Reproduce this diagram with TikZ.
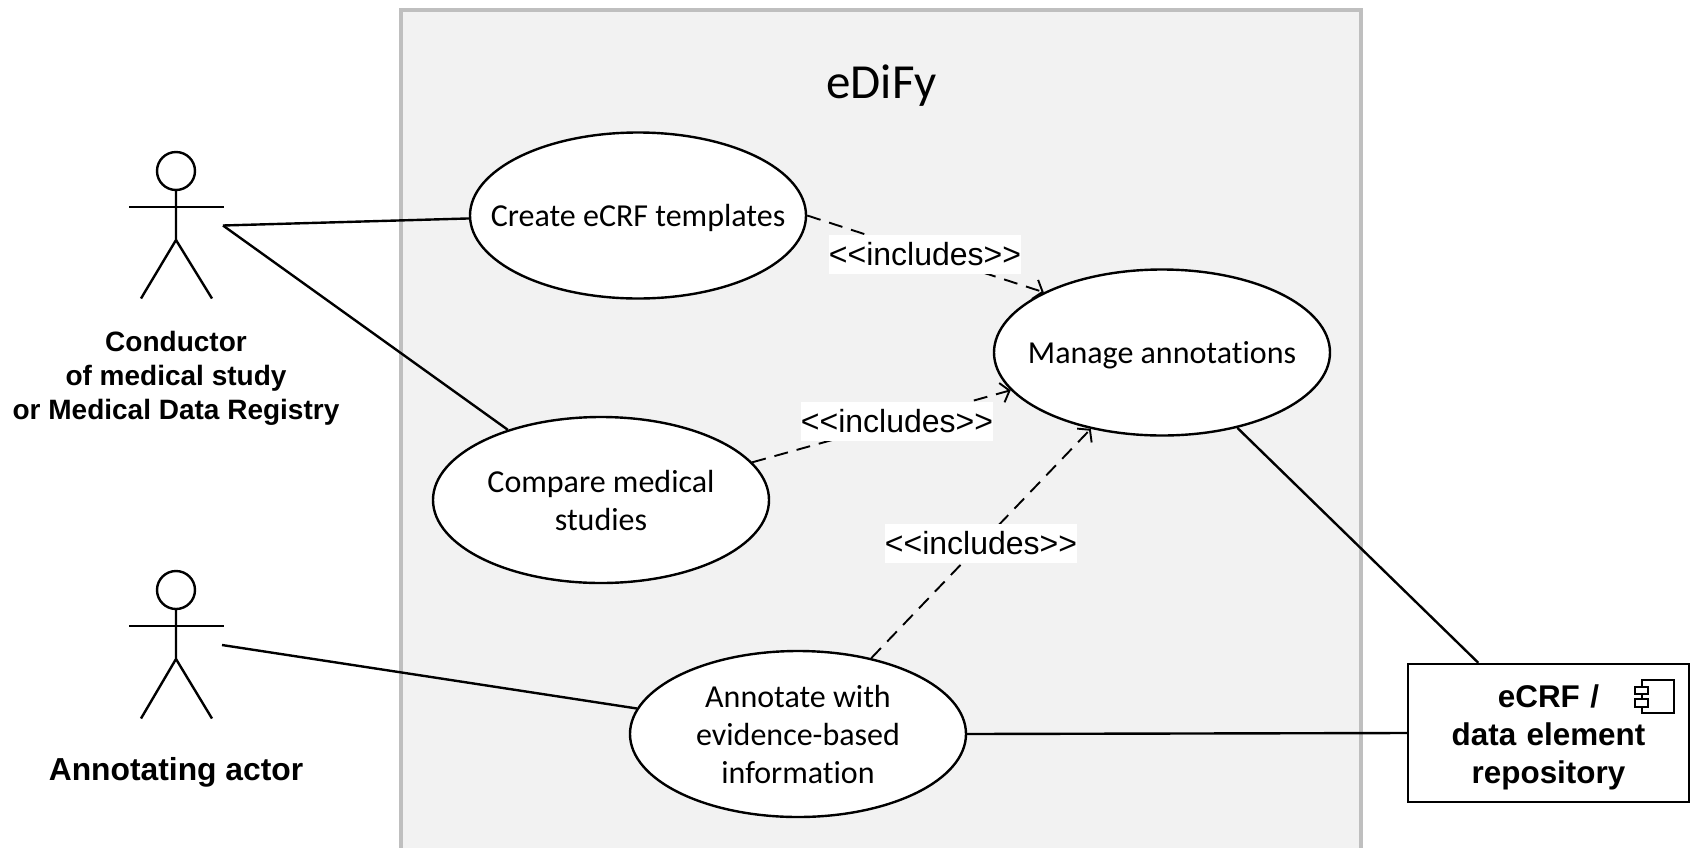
\documentclass[tikz,border=0pt]{standalone}
\usepackage{fontspec}
\setmainfont{Carlito}[Ligatures=NoCommon]
\newfontfamily\arialfont{Liberation Sans}
\usetikzlibrary{shapes.geometric,arrows.meta}
\tikzset{
  usecase/.style={ellipse,draw=black,fill=white,line width=2.4pt,minimum width=336pt,minimum height=166pt,inner xsep=-70pt,inner ysep=0pt,align=center,font=\fontsize{32}{38}\selectfont},
  singleline/.style={text height=30pt,text depth=8pt},
  assoc/.style={line width=2.4pt,black},
  incl/.style={line width=1.9pt,black,dash pattern=on 14pt off 9pt,-{Straight Barb[length=8pt,width=20pt,line width=1.9pt]}},
  inclabel/.style={fill=white,inner sep=0pt,minimum width=191pt,minimum height=39pt,font=\arialfont\fontsize{32}{36}\selectfont},
  actorlabel/.style={align=center,inner sep=0pt,font=\arialfont\bfseries\fontsize{28}{34}\selectfont},
  limb/.style={line width=2.4pt,black},
  head/.style={circle,draw=black,line width=2.4pt,minimum size=38pt,inner sep=0pt},
  comppart/.style={draw=black,fill=white,line width=1.9pt}
}
\begin{document}
\begin{tikzpicture}[x=1pt,y=-1pt]
\useasboundingbox (0,0) rectangle (1690,847);
\clip (0,0) rectangle (1690,847);
\fill[white] (0,0) rectangle (1690,847);
\draw[draw=black!25,fill=black!5,line width=4pt] (401,10) rectangle (1361,880);
\node[font=\fontsize{49}{52}\selectfont,inner sep=0pt] (title) at (881.5,86) {eDiFy};
% actors
\node[head] (h1) at (176,171) {};
\coordinate (hip1) at (176,240);
\coordinate (a1l) at (129,207);
\coordinate (a1r) at (224,207);
\coordinate (l1l) at (141,298.5);
\coordinate (l1r) at (212,298.5);
\draw[limb] (h1) -- (hip1) -- (l1l);
\draw[limb] (hip1) -- (l1r);
\draw[limb] (a1l) -- (a1r);
\coordinate (p1) at (223,225.5);
\node[actorlabel] (t1) at (176,378) {Conductor\\of medical study\\or Medical Data Registry};
\node[head] (h2) at (176,590) {};
\coordinate (hip2) at (176,659);
\coordinate (a2l) at (129,626);
\coordinate (a2r) at (224,626);
\coordinate (l2l) at (141,718.5);
\coordinate (l2r) at (212,718.5);
\draw[limb] (h2) -- (hip2) -- (l2l);
\draw[limb] (hip2) -- (l2r);
\draw[limb] (a2l) -- (a2r);
\coordinate (p2) at (222,645);
\node[actorlabel,font=\arialfont\bfseries\fontsize{31.8}{36}\selectfont] (t2) at (176,772) {Annotating actor};
% use cases
\node[usecase,singleline] (create) at (638,215.5) {Create eCRF templates};
\node[usecase,singleline] (manage) at (1162,352.5) {Manage annotations};
\node[usecase] (compare) at (601,500) {Compare medical\\studies};
\node[usecase] (annotate) at (798,734) {Annotate with\\evidence-based\\information};
% repository
\node[draw=black,fill=white,line width=2.4pt,minimum width=281pt,minimum height=138pt,inner sep=0pt,align=center,font=\arialfont\bfseries\fontsize{31.4}{38}\selectfont,text width=230pt] (box) at (1548.5,733) {\rule{0pt}{31pt}eCRF /\\data element\\repository};
\draw[comppart] (1642,680) rectangle (1674,713);
\draw[comppart] (1635,687) rectangle (1648,694);
\draw[comppart] (1635,699) rectangle (1648,707);
% connectors
\draw[assoc] (p1) -- (create.181.5);
\draw[assoc] (p1) -- (compare.143);
\draw[assoc] (p2) -- (annotate.171.5);
\draw[assoc] (annotate.east) -- (box.west);
\draw[assoc] (manage.-45) -- (box.135);
\draw[incl] (create.east) -- (manage.153.6);
\draw[incl] (compare.14.7) -- (manage.194.4);
\draw[incl] (annotate.46) -- (manage.227.4);
\node[inclabel] (i1) at (925,254) {<{}<includes>{}>};
\node[inclabel] (i2) at (897,421) {<{}<includes>{}>};
\node[inclabel] (i3) at (981,543) {<{}<includes>{}>};
\end{tikzpicture}
\end{document}
